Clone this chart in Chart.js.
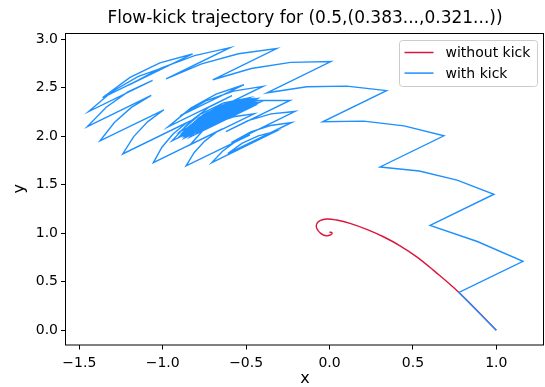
<!DOCTYPE html>
<html>
<head>
<meta charset="utf-8">
<script src="https://cdn.jsdelivr.net/npm/chart.js@4.4.1/dist/chart.umd.min.js"></script>
<style>
html, body { margin: 0; padding: 0; background: #ffffff; }
</style>
</head>
<body>
<canvas id="chart-flow-kick" width="545" height="387"></canvas>
<script>
const chartTitle = 'Flow-kick trajectory for (0.5,(0.383...,0.321...))';
const xTicks = [-1.5, -1.0, -0.5, 0.0, 0.5, 1.0];
const yTicks = [0.0, 0.5, 1.0, 1.5, 2.0, 2.5, 3.0];

// flow only, spirals into the rest point
const noKickX = [1.0, 0.776, 0.622, 0.523, 0.423, 0.323, 0.223, 0.123, 0.043, -0.017,
    -0.057, -0.077, -0.077, -0.053, -0.021, 0.009, 0.015, -0.001];
const noKickY = [0.0, 0.389, 0.619, 0.756, 0.870, 0.963, 1.039, 1.101, 1.135, 1.146,
    1.128, 1.094, 1.050, 0.998, 0.973, 0.984, 1.004, 1.011];

// flow for 0.5, then kick by (0.383, 0.321), repeated
const kickX = [
    1.000, 0.776, 1.160, 0.886, 0.603, 0.986, 0.765, 0.538, 0.303, 0.686,
    0.447, 0.205, -0.041, 0.342, 0.103, -0.136, -0.375, 0.008, -0.233, -0.469,
    -0.700, -0.317, -0.546, -0.767, -0.980, -0.597, -0.809, -1.011, -1.204, -0.821,
    // loops round the attractor
    -1.017, -1.196, -1.360, -0.977,  -1.149, -1.305, -1.444, -1.061,
    -1.209, -1.339, -1.452, -1.069,  -1.188, -1.290, -1.376, -0.993,
    -1.091, -1.174, -1.240, -0.857,  -0.938, -1.005, -1.056, -0.673,
    -0.748, -0.811, -0.860, -0.477,  -0.564, -0.640, -0.706, -0.323,
    -0.427, -0.523, -0.610, -0.227,  -0.355, -0.475, -0.589, -0.206,
    -0.351, -0.489, -0.621, -0.237,  -0.426, -0.607, -0.782, -0.399,
    -0.576, -0.742, -0.896, -0.513,  -0.680, -0.832, -0.968, -0.585,
    -0.722, -0.841, -0.944, -0.561,  -0.666, -0.758, -0.836, -0.453,
    -0.576, -0.691, -0.800, -0.417,
    // settled cycle
    -0.568, -0.702, -0.819, -0.436,  -0.595, -0.737, -0.862, -0.479,
    -0.635, -0.773, -0.894, -0.511,  -0.655, -0.782, -0.892, -0.509,
    -0.646, -0.765, -0.867, -0.484,  -0.619, -0.736, -0.836, -0.453,
    -0.593, -0.716, -0.822, -0.439,  -0.587, -0.718, -0.831, -0.448,
    -0.601, -0.736, -0.854, -0.471,  -0.622, -0.756, -0.873, -0.490,
    -0.636, -0.765, -0.877, -0.493,  -0.635, -0.758, -0.865, -0.482,
    -0.621, -0.743, -0.848, -0.465,  -0.606, -0.730, -0.837, -0.454,
    -0.600, -0.728, -0.840, -0.457,  -0.606, -0.737, -0.851, -0.468,
    -0.617, -0.749, -0.863, -0.480,  -0.626, -0.754, -0.866, -0.483,
    -0.626, -0.752, -0.861, -0.478,  -0.620, -0.745, -0.852, -0.469,
    -0.612, -0.737, -0.846, -0.463,  -0.608, -0.736, -0.847, -0.463,
    -0.611, -0.741, -0.854, -0.471
];
const kickY = [
    0.000, 0.389, 0.710, 0.914, 1.081, 1.401, 1.547, 1.640, 1.682, 2.003,
    2.105, 2.154, 2.147, 2.468, 2.515, 2.508, 2.446, 2.767, 2.759, 2.696,
    2.580, 2.901, 2.848, 2.744, 2.590, 2.911, 2.829, 2.701, 2.525, 2.846,
    // loops round the attractor
    2.754, 2.605, 2.397, 2.718,  2.613, 2.457, 2.253, 2.574,
    2.456, 2.298, 2.098, 2.419,  2.296, 2.139, 1.951, 2.271,
    2.147, 1.995, 1.816, 2.137,  2.022, 1.885, 1.727, 2.048,
    1.948, 1.831, 1.693, 2.013,  1.942, 1.847, 1.727, 2.048,
    2.002, 1.927, 1.819, 2.140,  2.109, 2.040, 1.933, 2.254,
    2.229, 2.160, 2.046, 2.367,  2.366, 2.308, 2.191, 2.512,
    2.463, 2.362, 2.209, 2.529,  2.433, 2.288, 2.095, 2.416,
    2.299, 2.143, 1.951, 2.271,  2.180, 2.059, 1.909, 2.230,
    2.199, 2.132, 2.027, 2.348,
    // settled cycle
    2.316, 2.222, 2.066, 2.387,  2.345, 2.240, 2.074, 2.395,
    2.342, 2.227, 2.050, 2.370,  2.313, 2.192, 2.010, 2.331,
    2.278, 2.161, 1.983, 2.304,  2.261, 2.157, 1.990, 2.311,
    2.276, 2.180, 2.021, 2.342,  2.306, 2.211, 2.052, 2.373,
    2.331, 2.227, 2.062, 2.383,  2.333, 2.221, 2.047, 2.368,
    2.315, 2.198, 2.021, 2.342,  2.290, 2.177, 2.002, 2.323,
    2.278, 2.171, 2.002, 2.323,  2.284, 2.182, 2.019, 2.340,
    2.301, 2.201, 2.039, 2.360,  2.318, 2.214, 2.047, 2.368,
    2.321, 2.211, 2.039, 2.360,  2.311, 2.198, 2.025, 2.346,
    2.297, 2.187, 2.014, 2.335,  2.290, 2.184, 2.014, 2.335,
    2.293, 2.189, 2.023, 2.344,  2.302, 2.198, 2.033, 2.354,
    2.306, 2.198, 2.027, 2.348
];

const fontFamily = '"DejaVu Sans", sans-serif';

function toPoints(xs, ys) {
    return xs.map((x, i) => ({x: x, y: ys[i]}));
}

function tickText(value) {
    return value.toFixed(1).replace('-', '\u2212');
}

// title, top/right spines and the boxed legend, drawn the matplotlib way
const frameAndLegend = {
    id: 'frameAndLegend',
    afterDraw(chart) {
        const ctx = chart.ctx;
        const area = chart.chartArea;
        ctx.save();

        ctx.strokeStyle = '#000000';
        ctx.lineWidth = 1;
        ctx.strokeRect(area.left - 0.5, area.top + 0.5, area.right - area.left, area.bottom - area.top);

        ctx.fillStyle = '#000000';
        ctx.font = '17px ' + fontFamily;
        ctx.textAlign = 'center';
        ctx.textBaseline = 'middle';
        ctx.fillText(chartTitle, (area.left + area.right) / 2, 19);

        const boxLeft = area.right - 144.5;
        const boxTop = area.top + 7.5;
        ctx.beginPath();
        ctx.roundRect(boxLeft, boxTop, 138, 46, 3);
        ctx.fillStyle = 'rgba(255,255,255,0.8)';
        ctx.fill();
        ctx.strokeStyle = '#cccccc';
        ctx.stroke();

        ctx.font = '14px ' + fontFamily;
        ctx.textAlign = 'left';
        const rows = [chart.data.datasets[1], chart.data.datasets[0]];
        rows.forEach((dataset, i) => {
            const rowY = boxTop + 12 + i * 20.6;
            ctx.beginPath();
            ctx.moveTo(boxLeft + 5, rowY);
            ctx.lineTo(boxLeft + 34, rowY);
            ctx.strokeStyle = dataset.borderColor;
            ctx.lineWidth = 1.5;
            ctx.stroke();
            ctx.fillStyle = '#000000';
            ctx.fillText(dataset.label, boxLeft + 46, rowY + 1);
        });
        ctx.restore();
    }
};

new Chart(document.getElementById('chart-flow-kick'), {
    type: 'scatter',
    data: {
        datasets: [{
            label: 'with kick',
            data: toPoints(kickX, kickY),
            showLine: true,
            borderColor: '#1E90FF',
            borderWidth: 1.4,
            pointRadius: 0,
            tension: 0,
            order: 0
        }, {
            label: 'without kick',
            data: toPoints(noKickX, noKickY),
            showLine: true,
            borderColor: '#DC143C',
            borderWidth: 1.4,
            pointRadius: 0,
            tension: 0.4,
            order: 1
        }]
    },
    options: {
        responsive: false,
        animation: false,
        layout: {
            padding: {top: 33, right: 1, left: 0, bottom: 0}
        },
        plugins: {
            legend: {display: false},
            title: {display: false},
            tooltip: {enabled: false}
        },
        scales: {
            x: {
                type: 'linear',
                min: -1.58,
                max: 1.286,
                afterFit: scale => { scale.height = 42.5; },
                afterBuildTicks: scale => { scale.ticks = xTicks.map(v => ({value: v})); },
                grid: {drawOnChartArea: false, drawTicks: true, tickLength: 5, color: '#000000'},
                border: {display: false},
                ticks: {
                    color: '#000000',
                    padding: 5,
                    maxRotation: 0,
                    font: {family: fontFamily, size: 14},
                    callback: value => tickText(value)
                },
                title: {
                    display: true,
                    text: 'x',
                    color: '#000000',
                    font: {family: fontFamily, size: 16},
                    padding: {top: 0, bottom: -1}
                }
            },
            y: {
                type: 'linear',
                min: -0.147,
                max: 3.062,
                afterFit: scale => { scale.width = 66; },
                afterBuildTicks: scale => { scale.ticks = yTicks.map(v => ({value: v})); },
                grid: {drawOnChartArea: false, drawTicks: true, tickLength: 5, color: '#000000'},
                border: {display: false},
                ticks: {
                    color: '#000000',
                    padding: 3,
                    font: {family: fontFamily, size: 14},
                    callback: value => tickText(value)
                },
                title: {
                    display: true,
                    text: 'y',
                    color: '#000000',
                    font: {family: fontFamily, size: 16},
                    padding: {top: 10, bottom: 0}
                }
            }
        }
    },
    plugins: [frameAndLegend]
});
</script>
</body>
</html>
